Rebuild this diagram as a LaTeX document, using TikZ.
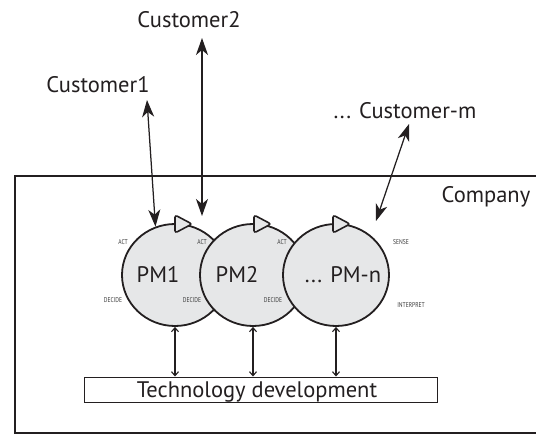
\documentclass[tikz,border=0pt]{standalone}
\usepackage{fontspec}
\setmainfont{PT Sans}
\usetikzlibrary{arrows.meta,shapes.geometric,calc}
\definecolor{pmfill}{HTML}{E6E7E8}
\definecolor{ink}{HTML}{231F20}
\definecolor{small}{HTML}{3A3A3A}
\begin{document}
\begin{tikzpicture}[x=1pt,y=-1pt,
  pm/.style={ellipse, draw=ink, line width=1.8pt, fill=pmfill, inner sep=0pt,
             minimum width=106pt, minimum height=102pt},
  big/.style={font=\fontsize{22.5}{26}\selectfont, text=ink, inner sep=0pt, anchor=base},
  tiny/.style={font=\fontsize{7}{8}\selectfont, text=small, inner sep=0pt},
  custarrow/.style={line width=1.25pt, draw=ink,
     {Stealth[length=17pt,width=12pt,inset=5pt]}-{Stealth[length=17pt,width=12pt,inset=5pt]}},
  techarrow/.style={line width=1.1pt, draw=ink,
     {Straight Barb[length=4pt,width=7pt]}-{Straight Barb[length=4pt,width=7pt]}},
  tri/.style={draw=ink, line width=1.6pt, fill=pmfill, rounded corners=2.5pt},
  frame/.style={draw=ink, line width=1.9pt}
]
\useasboundingbox (0,0) rectangle (536,434);
\clip (0,0) rectangle (536,434);
\fill[white] (0,0) rectangle (536,434);

% company frame
\node[frame, rectangle, inner sep=0pt, anchor=north west, minimum width=560pt, minimum height=257pt] (company) at (14,175) {};
\node[big] (companylbl) at (486,202) {Company};

% customers
\node[big] (c1) at (98,92) {Customer1};
\node[big] (c2) at (189,27) {Customer2};
\node[big] (cm) at (405,118) {... Customer-m};

% PMs
\node[pm] (pm1) at (175,275) {};
\draw[tri] (175,215) -- (192,224) -- (175,233) -- cycle;
\node[pm] (pm2) at (253,275) {};
\draw[tri] (254,215) -- (271,224) -- (254,233) -- cycle;
\node[pm] (pmn) at (336,275) {};
\draw[tri] (333,215) -- (350,224) -- (333,233) -- cycle;

\node[big] (t1) at (158,282) {PM1};
\node[big] (t2) at (237,282) {PM2};
\node[big] (tn) at (343,282) {... PM-n};

% small labels
\node[tiny] (a1) at (123,242) {\scalebox{0.8}[1]{ACT}};
\node[tiny] (a2) at (202,242) {\scalebox{0.8}[1]{ACT}};
\node[tiny] (a3) at (282,242) {\scalebox{0.8}[1]{ACT}};
\node[tiny] (s1) at (401,242) {\scalebox{0.8}[1]{SENSE}};
\node[tiny] (d1) at (113,300) {\scalebox{0.8}[1]{DECIDE}};
\node[tiny] (d2) at (192,300) {\scalebox{0.8}[1]{DECIDE}};
\node[tiny] (d3) at (273,300) {\scalebox{0.8}[1]{DECIDE}};
\node[tiny] (i1) at (411,305) {\scalebox{0.8}[1]{INTERPRET}};

% technology development
\node[draw=ink, line width=1pt, rectangle, inner sep=0pt, minimum width=353pt, minimum height=25pt] (tech) at (260.5,389.5) {};
\node[big] (techlbl) at (257,397) {Technology development};

% customer arrows
\coordinate (c1tip) at (147,100);
\coordinate (c2top) at (202,38);
\coordinate (c2bot) at (202,216);
\coordinate (cmtop) at (409,124);
\coordinate (cmbot) at (376,221);
\draw[custarrow] (c1tip) -- (pm1.112);
\draw[custarrow] (c2top) -- (c2bot);
\draw[custarrow] (cmtop) -- (cmbot);

% tech arrows
\draw[techarrow] (pm1.south) -- (tech.north -| pm1.south);
\draw[techarrow] (pm2.south) -- (tech.north -| pm2.south);
\draw[techarrow] (pmn.south) -- (tech.north -| pmn.south);
\end{tikzpicture}
\end{document}
